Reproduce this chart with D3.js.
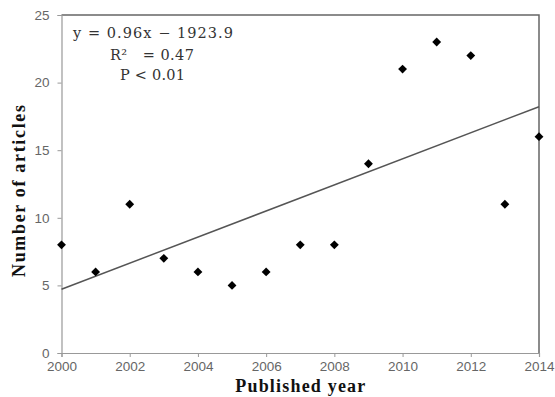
<!DOCTYPE html>
<html>
<head>
<meta charset="utf-8">
<script src="https://cdn.jsdelivr.net/npm/d3@7"></script>
<style>
	body { margin: 0; background: #fff; }
	svg { display: block; }
</style>
</head>
<body>
<div id="app"></div>
<script>
const years = [2000, 2001, 2002, 2003, 2004, 2005, 2006, 2007, 2008, 2009, 2010, 2011, 2012, 2013, 2014];
const articles = [8, 6, 11, 7, 6, 5, 6, 8, 8, 14, 21, 23, 22, 11, 16];
const xTicks = [2000, 2002, 2004, 2006, 2008, 2010, 2012, 2014];
const yTicks = [0, 5, 10, 15, 20, 25];
const notes = ['y = 0.96x \u2212 1923.9', 'R\u00b2   = 0.47', 'P < 0.01'];

const width = 555;
const height = 397;
const margin = {top: 15, right: 16, bottom: 44, left: 61.5};

const svg = d3.select('#app').append('svg')
	.attr('width', width)
	.attr('height', height);

const x = d3.scaleLinear()
	.domain([2000, 2014])
	.range([margin.left, width - margin.right]);
const y = d3.scaleLinear()
	.domain([0, 25])
	.range([height - margin.bottom, margin.top]);

// frame: top and right edges
svg.append('path')
	.attr('d', `M${x(2000)},${y(25)}H${x(2014)}V${y(0)}`)
	.attr('fill', 'none')
	.attr('stroke', '#666')
	.attr('stroke-width', 1.5);

const xAxis = svg.append('g')
	.attr('transform', `translate(0,${y(0)})`)
	.call(d3.axisBottom(x).tickValues(xTicks).tickFormat(d3.format('d')).tickSizeOuter(0).tickSize(4));
const yAxis = svg.append('g')
	.attr('transform', `translate(${x(2000)},0)`)
	.call(d3.axisLeft(y).tickValues(yTicks).tickSizeOuter(0).tickSize(4));

[xAxis, yAxis].forEach((g) => {
	g.select('.domain').attr('stroke', '#999').attr('stroke-width', 1.2);
	g.selectAll('.tick line').attr('stroke', '#999');
	g.selectAll('.tick text')
		.attr('fill', '#666')
		.attr('font-family', 'Liberation Sans, Arial, sans-serif')
		.attr('font-size', 13.5);
});
xAxis.selectAll('.tick text').attr('y', 8).attr('dy', '0.75em');
yAxis.selectAll('.tick text').attr('x', -12);

// least squares trend
const mx = d3.mean(years);
const my = d3.mean(articles);
const slope = d3.sum(years, (d, i) => (d - mx) * (articles[i] - my)) / d3.sum(years, (d) => (d - mx) ** 2);
const intercept = my - slope * mx;

svg.append('line')
	.attr('x1', x(2000))
	.attr('y1', y(slope * 2000 + intercept))
	.attr('x2', x(2014))
	.attr('y2', y(slope * 2014 + intercept))
	.attr('stroke', '#555')
	.attr('stroke-width', 1.5);

svg.selectAll('path.pt')
	.data(years)
	.enter()
	.append('path')
	.attr('class', 'pt')
	.attr('d', d3.symbol(d3.symbolDiamond2, 50))
	.attr('transform', (d, i) => `translate(${x(d)},${y(articles[i])})`)
	.attr('fill', '#000');

const noteX = [73, 110, 120];
const noteY = [38, 60, 80];
const noteW = [160, 84, 65];
svg.selectAll('text.note')
	.data(notes)
	.enter()
	.append('text')
	.attr('class', 'note')
	.attr('x', (d, i) => noteX[i])
	.attr('y', (d, i) => noteY[i])
	.attr('textLength', (d, i) => noteW[i])
	.attr('lengthAdjust', 'spacing')
	.style('white-space', 'pre')
	.attr('fill', '#333')
	.attr('font-family', 'DejaVu Serif, serif')
	.attr('font-size', 14.5)
	.text((d) => d);

svg.append('text')
	.attr('x', (x(2000) + x(2014)) / 2)
	.attr('y', 392)
	.attr('text-anchor', 'middle')
	.attr('textLength', 130)
	.attr('font-family', 'Liberation Serif, serif')
	.attr('font-weight', 'bold')
	.attr('font-size', 18)
	.attr('fill', '#111')
	.text('Published year');

svg.append('text')
	.attr('transform', 'translate(25,191) rotate(-90)')
	.attr('text-anchor', 'middle')
	.attr('textLength', 172)
	.attr('font-family', 'Liberation Serif, serif')
	.attr('font-weight', 'bold')
	.attr('font-size', 18)
	.attr('fill', '#111')
	.text('Number of articles');
</script>
</body>
</html>
